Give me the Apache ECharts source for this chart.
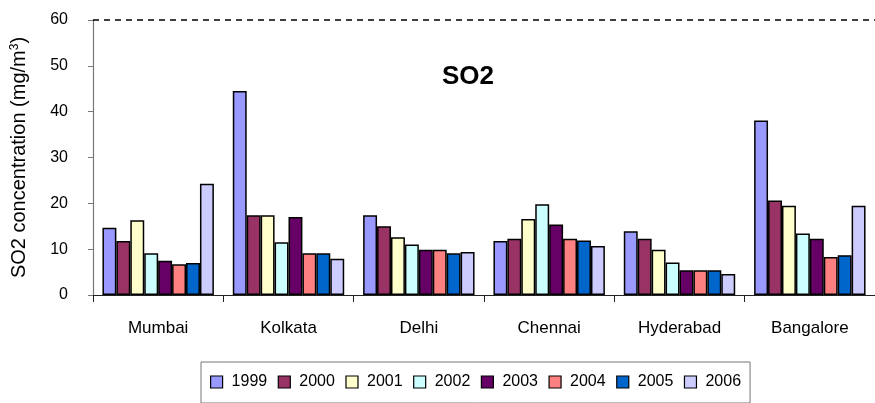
<!DOCTYPE html>
<html>
<head>
<meta charset="utf-8">
<script src="https://cdn.jsdelivr.net/npm/echarts@6/dist/echarts.min.js"></script>
<style>
html,body{margin:0;padding:0;background:#fff;}
#c{width:875px;height:403px;}
</style>
</head>
<body>
<div id="c"></div>
<script>
const categories = ['Mumbai', 'Kolkata', 'Delhi', 'Chennai', 'Hyderabad', 'Bangalore'];
const years = ['1999', '2000', '2001', '2002', '2003', '2004', '2005', '2006'];
const v1999 = [14.7, 44.5, 17.4, 11.8, 13.9, 38.1];
const v2000 = [11.8, 17.4, 15.0, 12.3, 12.3, 20.6];
const v2001 = [16.3, 17.4, 12.6, 16.6, 9.9, 19.5];
const v2002 = [9.1, 11.5, 11.0, 19.8, 7.1, 13.4];
const v2003 = [7.5, 17.0, 9.9, 15.4, 5.4, 12.3];
const v2004 = [6.7, 9.1, 9.9, 12.3, 5.4, 8.3];
const v2005 = [7.0, 9.1, 9.1, 11.9, 5.4, 8.7];
const v2006 = [24.3, 7.9, 9.4, 10.7, 4.6, 19.5];
const standardLimit = 60;
const yTicks = [0, 10, 20, 30, 40, 50, 60];

const seriesValues = [v1999, v2000, v2001, v2002, v2003, v2004, v2005, v2006];
const colors = ['#9999FF', '#993366', '#FFFFCC', '#CCFFFF', '#660066', '#FF8080', '#0066CC', '#CCCCFF'];
const FONT = "'Liberation Sans', Arial, sans-serif";

const chart = echarts.init(document.getElementById('c'), null, {renderer: 'canvas'});
const series = years.map((y, i) => {
  const s = {
    name: y,
    type: 'bar',
    data: seriesValues[i],
    barGap: '0%',
    barCategoryGap: '14.5%',
    itemStyle: {color: colors[i], borderColor: '#000', borderWidth: 1.5},
    emphasis: {disabled: true},
    animation: false
  };
  if (i === 0) {
    s.markLine = {
      silent: true,
      symbol: 'none',
      label: {show: false},
      lineStyle: {color: '#000', type: [6, 5], width: 1.5},
      data: [{yAxis: standardLimit}],
      animation: false
    };
  }
  return s;
});

chart.setOption({
  animation: false,
  color: colors,
  title: {
    text: 'SO2',
    left: 437,
    top: 59,
    textStyle: {fontFamily: FONT, fontWeight: 'bold', fontSize: 26, color: '#000'}
  },
  legend: {
    left: 201,
    top: 362,
    padding: [12, 9, 13, 9],
    itemGap: 10.5,
    itemWidth: 12,
    itemHeight: 12,
    icon: 'rect',
    borderColor: '#777',
    borderWidth: 1,
    data: years,
    itemStyle: {borderColor: '#000', borderWidth: 1.2},
    textStyle: {fontFamily: FONT, fontSize: 16, color: '#000', padding: [0, 0, 0, 4]}
  },
  grid: {left: 93, top: 20, width: 786, height: 275},
  xAxis: {
    type: 'category',
    data: categories,
    axisLine: {lineStyle: {color: '#222', width: 1.2}},
    axisTick: {show: true, length: 7, lineStyle: {color: '#222'}},
    axisLabel: {fontFamily: FONT, fontSize: 17, color: '#000', margin: 25, interval: 0}
  },
  yAxis: {
    type: 'value',
    min: yTicks[0],
    max: yTicks[yTicks.length - 1],
    interval: 10,
    name: 'SO2 concentration (mg/m{sup|3})',
    nameLocation: 'middle',
    nameRotate: 90,
    nameGap: 64,
    nameTextStyle: {
      fontFamily: FONT, fontSize: 20, color: '#000',
      rich: {sup: {fontFamily: FONT, fontSize: 12, color: '#000', verticalAlign: 'top', padding: [0, 0, 8, 0]}}
    },
    axisLine: {show: true, lineStyle: {color: '#777', width: 1.2}},
    axisTick: {show: true, length: 5, lineStyle: {color: '#777'}},
    splitLine: {show: false},
    axisLabel: {fontFamily: FONT, fontSize: 16, color: '#000', margin: 25}
  },
  series: series
});
</script>
</body>
</html>
